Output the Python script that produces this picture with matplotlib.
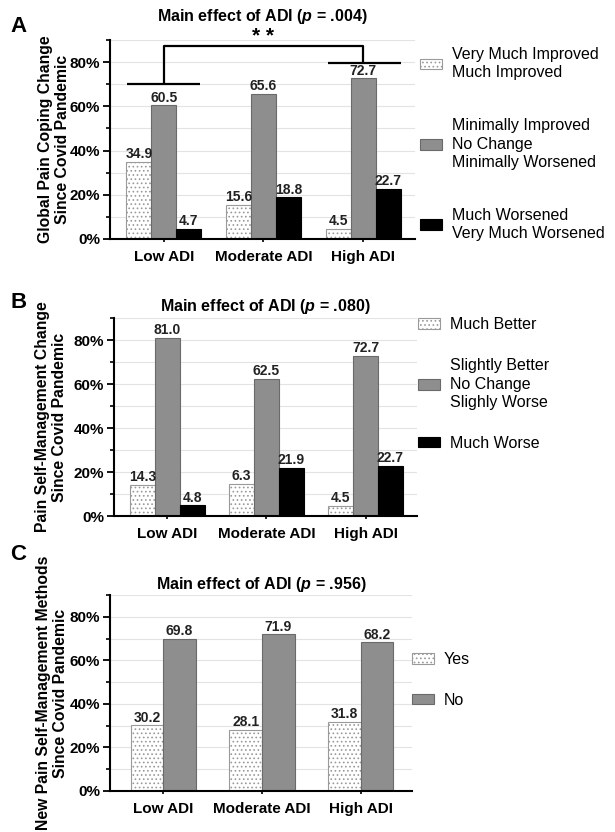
import numpy as np
import matplotlib
matplotlib.use("Agg")
import matplotlib.pyplot as plt
from matplotlib.ticker import MultipleLocator, FuncFormatter

plt.rcParams['font.family'] = ['Liberation Sans', 'DejaVu Sans']
plt.rcParams['mathtext.fontset'] = 'custom'
plt.rcParams['mathtext.bfit'] = 'Liberation Sans:italic:bold'
plt.rcParams['mathtext.bf'] = 'Liberation Sans:bold'
plt.rcParams['mathtext.rm'] = 'Liberation Sans'
plt.rcParams['hatch.linewidth'] = 0.7

# ---- data ----
groups = ["Low ADI", "Moderate ADI", "High ADI"]

# panel A: global pain coping change
a_improved = [34.9, 15.6, 4.5]
a_nochange = [60.5, 65.6, 72.7]
a_worsened = [4.7, 18.8, 22.7]
a_legend = ["Very Much Improved\nMuch Improved",
            "Minimally Improved\nNo Change\nMinimally Worsened",
            "Much Worsened\nVery Much Worsened"]

# panel B: pain self-management change
# (bar for Moderate ADI "Much Better" is drawn ~14.5 in the source although labelled 6.3)
b_better = [14.3, 14.5, 4.5]
b_better_lbl = ["14.3", "6.3", "4.5"]
b_nochange = [81.0, 62.5, 72.7]
b_worse = [4.8, 21.9, 22.7]
b_legend = ["Much Better",
            "Slightly Better\nNo Change\nSlighly Worse",
            "Much Worse"]

# panel C: new pain self-management methods
c_yes = [30.2, 28.1, 31.8]
c_no = [69.8, 71.9, 68.2]
c_legend = ["Yes", "No"]

p_values = [".004", ".080", ".956"]

DOT = dict(color="white", edgecolor="#9a9a9a", hatch="....", linewidth=0.8)
GRAY = dict(color="#8e8e8e", edgecolor="#6a6a6a", linewidth=0.8)
BLACK = dict(color="black", edgecolor="black", linewidth=0.8)

fig = plt.figure(figsize=(6.15, 8.32), dpi=100)
W, H = 615.0, 832.0


def make_ax(l, r, b, t):
    return fig.add_axes([l / W, 1 - b / H, (r - l) / W, (b - t) / H])


def style(ax, ylabel, lab_x):
    x = np.arange(len(groups))
    ax.set_xlim(-0.54, 2.52)
    ax.set_ylim(0, 90)
    ax.yaxis.set_major_locator(MultipleLocator(20))
    ax.yaxis.set_minor_locator(MultipleLocator(10))
    ax.yaxis.set_major_formatter(FuncFormatter(lambda v, p: "%d%%" % v))
    ax.grid(axis="y", which="both", color="#e3e3e3", linewidth=0.8)
    ax.set_axisbelow(True)
    for s in ["top", "right"]:
        ax.spines[s].set_visible(False)
    for s in ["left", "bottom"]:
        ax.spines[s].set_linewidth(1.5)
    ax.tick_params(axis="y", which="major", length=5, width=1.3, labelsize=11, pad=2)
    ax.tick_params(axis="y", which="minor", length=3, width=1.2)
    ax.tick_params(axis="x", length=4, width=1.2, direction="inout", labelsize=11, pad=6)
    ax.set_xticks(x)
    ax.set_xticklabels(groups, fontweight="bold")
    for t in ax.get_yticklabels():
        t.set_fontweight("bold")
    ax.set_ylabel(ylabel, fontsize=11.3, fontweight="bold", linespacing=1.2)
    ax.yaxis.set_label_coords(lab_x, 0.5)


def add_labels(ax, bars, labels=None):
    if labels is None:
        labels = ["%.1f" % b.get_height() for b in bars]
    ax.bar_label(bars, labels=labels, padding=0.5, fontsize=10, fontweight="bold",
                 color="#222222")


def title(ax, p, pad):
    ax.set_title(r"Main effect of ADI ($\mathbfit{p}$ = " + p + ")",
                 fontsize=11.5, fontweight="bold", pad=pad)


def legend(ax, handles, labels, x, y, spacing):
    leg = fig.legend(handles, labels, loc="center left", bbox_to_anchor=(x / W, 1 - y / H),
                     frameon=False, fontsize=11.5, handlelength=1.4, handleheight=0.65,
                     handletextpad=0.6, labelspacing=spacing, borderpad=0, borderaxespad=0)
    for t in leg.get_texts():
        t.set_linespacing(1.3)
    return leg


x = np.arange(len(groups))
bw = 0.25

# ---- A ----
axA = make_ax(110, 415, 239, 40)
ba1 = axA.bar(x - bw, a_improved, bw, **DOT)
ba2 = axA.bar(x, a_nochange, bw, **GRAY)
ba3 = axA.bar(x + bw, a_worsened, bw, **BLACK)
for b in (ba1, ba2, ba3):
    add_labels(axA, b)
style(axA, "Global Pain Coping Change\nSince Covid Pandemic", -0.13)
title(axA, p_values[0], 14)
# significance bracket
lk = dict(color="black", linewidth=1.6, clip_on=False, solid_capstyle="butt")
axA.plot([-0.37, 0.36], [70, 70], **lk)
axA.plot([0, 0, 2, 2], [70, 87.5, 87.5, 79.5], **lk)
axA.plot([1.65, 2.38], [79.5, 79.5], **lk)
axA.text(1, 91.5, "* *", ha="center", va="center", fontsize=15, fontweight="bold")
legend(axA, [ba1, ba2, ba3], a_legend, 420, 144, 2.35)
fig.text(10 / W, 1 - 27 / H, "A", fontsize=16, fontweight="bold", va="center")

# ---- B ----
axB = make_ax(114, 417, 516, 318)
bb1 = axB.bar(x - bw, b_better, bw, **DOT)
bb2 = axB.bar(x, b_nochange, bw, **GRAY)
bb3 = axB.bar(x + bw, b_worse, bw, **BLACK)
add_labels(axB, bb1, b_better_lbl)
add_labels(axB, bb2)
add_labels(axB, bb3)
style(axB, "Pain Self-Management Change\nSince Covid Pandemic", -0.155)
title(axB, p_values[1], 5)
legend(axB, [bb1, bb2, bb3], b_legend, 418, 384, 1.6)
fig.text(10 / W, 1 - 303 / H, "B", fontsize=16, fontweight="bold", va="center")

# ---- C ----
cw = 0.33
axC = make_ax(110, 412, 791, 595)
bc1 = axC.bar(x - cw / 2, c_yes, cw, **DOT)
bc2 = axC.bar(x + cw / 2, c_no, cw, **GRAY)
add_labels(axC, bc1)
add_labels(axC, bc2)
style(axC, "New Pain Self-Management Methods\nSince Covid Pandemic", -0.138)
title(axC, p_values[2], 4)
legend(axC, [bc1, bc2], c_legend, 412, 680, 1.6)
fig.text(10 / W, 1 - 555 / H, "C", fontsize=16, fontweight="bold", va="center")

fig.savefig("out.png", dpi=100)
